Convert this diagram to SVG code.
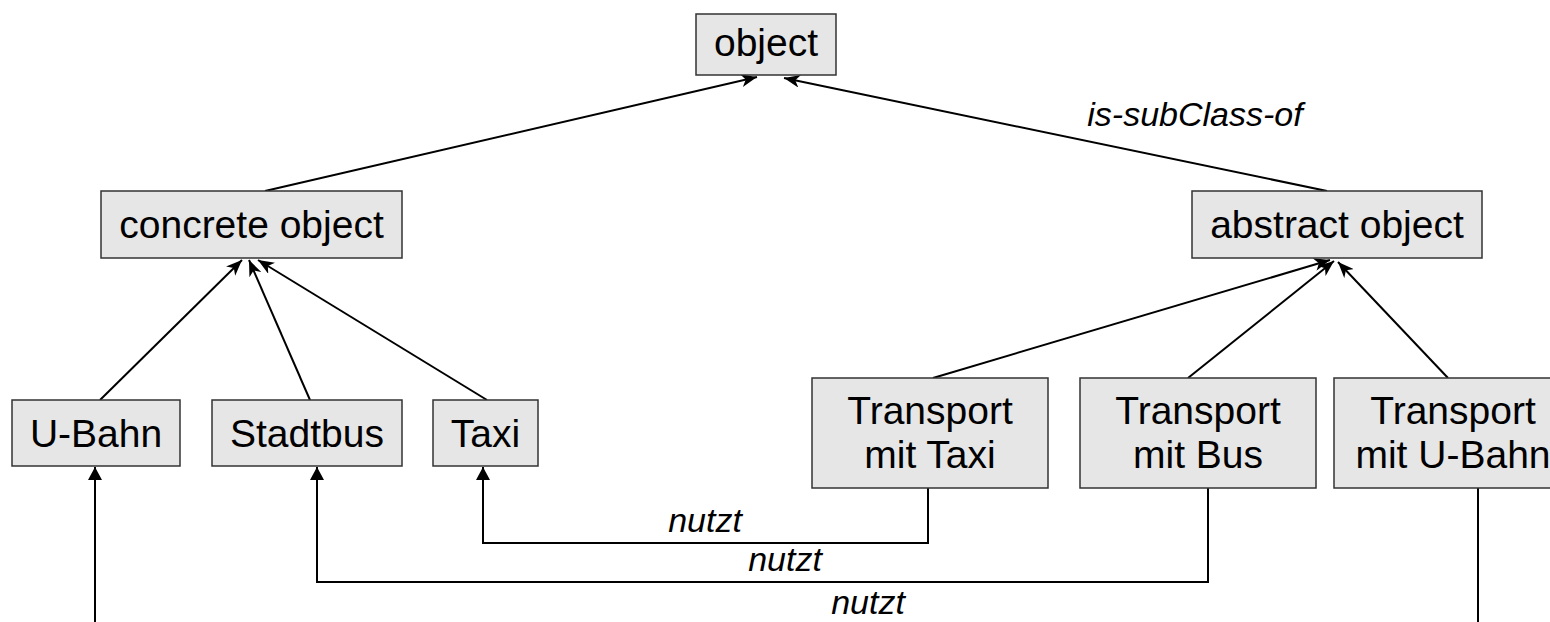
<svg xmlns="http://www.w3.org/2000/svg" width="1550" height="622" viewBox="0 0 1550 622">
  <style>
    .box { fill: #e6e6e6; stroke: #333333; stroke-width: 1.5; }
    .lbl { font-family: "Liberation Sans", Arial, sans-serif; font-size: 39px; fill: #000000; text-anchor: middle; }
    .rel { font-family: "Liberation Sans", Arial, sans-serif; font-size: 34px; font-style: italic; fill: #000000; text-anchor: middle; }
    .isa { fill: none; stroke: #000000; stroke-width: 2; marker-end: url(#stealth); }
    .use { fill: none; stroke: #000000; stroke-width: 2; }
    .use-arrow { fill: none; stroke: #000000; stroke-width: 2; marker-end: url(#tri); }
  </style>
  <defs>
    <marker id="stealth" markerUnits="userSpaceOnUse" markerWidth="17" markerHeight="13" refX="16" refY="6.5" orient="auto">
      <path d="M0,0 L16,6.5 L0,13 L4.5,6.5 z" fill="#000000"/>
    </marker>
    <marker id="tri" markerUnits="userSpaceOnUse" markerWidth="14" markerHeight="14" refX="13" refY="7" orient="auto">
      <path d="M0,0 L13,7 L0,14 z" fill="#000000"/>
    </marker>
  </defs>

  <!-- connectors -->
  <g id="connectors">
    <path class="isa" d="M265,191 L757,77"/>
    <path class="isa" d="M1327,191 L784,78"/>
    <path class="isa" d="M100,400 L242,260"/>
    <path class="isa" d="M310,400 L249,260"/>
    <path class="isa" d="M487,400 L258,260"/>
    <path class="isa" d="M933,378 L1330,260"/>
    <path class="isa" d="M1188,378 L1334,261"/>
    <path class="isa" d="M1448,378 L1338,262"/>
    <path class="use-arrow" d="M928,488 V543 H483 V467"/>
    <path class="use-arrow" d="M1208,488 V582 H317 V467"/>
    <path class="use-arrow" d="M95,622 V467"/>
    <path class="use" d="M1478,488 V622"/>
    <text class="rel" x="1195" y="126">is-subClass-of</text>
    <text class="rel" x="705" y="532">nutzt</text>
    <text class="rel" x="785" y="571">nutzt</text>
    <text class="rel" x="868" y="614">nutzt</text>
  </g>

  <g id="object">
    <rect class="box" x="696" y="14" width="140" height="61"/>
    <text class="lbl" x="766" y="56">object</text>
  </g>
  <g id="concrete-object">
    <rect class="box" x="101" y="191" width="301" height="67"/>
    <text class="lbl" x="251.5" y="238">concrete object</text>
  </g>
  <g id="abstract-object">
    <rect class="box" x="1192" y="191" width="290" height="67"/>
    <text class="lbl" x="1337" y="238">abstract object</text>
  </g>
  <g id="u-bahn">
    <rect class="box" x="12" y="400" width="168" height="66"/>
    <text class="lbl" x="96" y="447">U-Bahn</text>
  </g>
  <g id="stadtbus">
    <rect class="box" x="212" y="400" width="190" height="66"/>
    <text class="lbl" x="307" y="447">Stadtbus</text>
  </g>
  <g id="taxi">
    <rect class="box" x="433" y="400" width="105" height="66"/>
    <text class="lbl" x="485.5" y="447">Taxi</text>
  </g>
  <g id="transport-taxi">
    <rect class="box" x="812" y="378" width="236" height="110"/>
    <text class="lbl" x="930" y="424">Transport</text>
    <text class="lbl" x="930" y="468">mit Taxi</text>
  </g>
  <g id="transport-bus">
    <rect class="box" x="1080" y="378" width="236" height="110"/>
    <text class="lbl" x="1198" y="424">Transport</text>
    <text class="lbl" x="1198" y="468">mit Bus</text>
  </g>
  <g id="transport-u-bahn">
    <rect class="box" x="1334" y="378" width="238" height="110"/>
    <text class="lbl" x="1453" y="424">Transport</text>
    <text class="lbl" x="1453" y="468">mit U-Bahn</text>
  </g>
</svg>
